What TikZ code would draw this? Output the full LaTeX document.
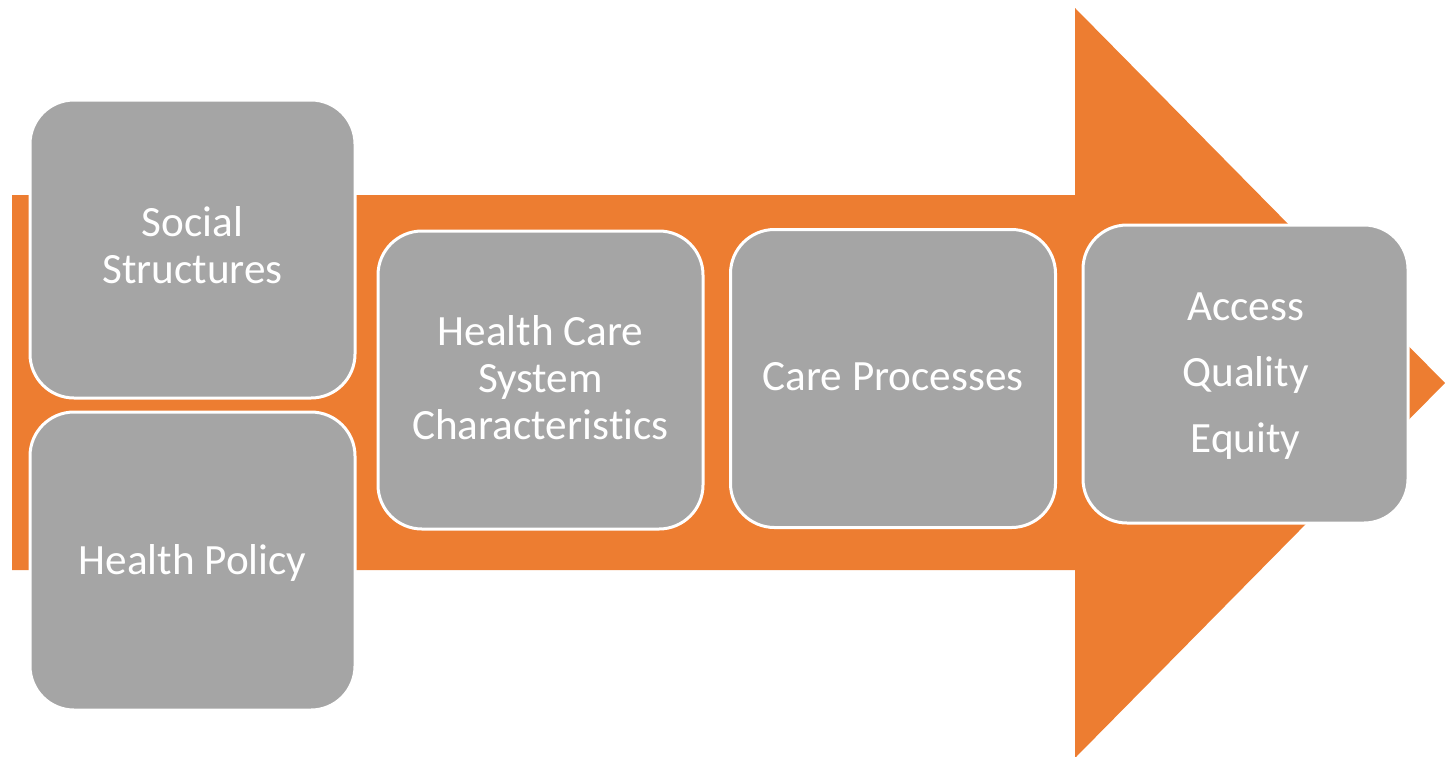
\documentclass[tikz,border=0pt]{standalone}
\usepackage{fontspec}
\setmainfont[Ligatures={NoCommon,NoContextual}]{Carlito}
\definecolor{arroworange}{HTML}{ED7D31}
\definecolor{boxgray}{HTML}{A5A5A5}
\begin{document}
\begin{tikzpicture}[x=0.5pt,y=-0.5pt,
  box/.style={draw=white, line width=1.5pt, fill=boxgray, rounded corners=22pt,
    minimum width=162.5pt, minimum height=149pt, inner sep=0pt},
  lbl/.style={text=white, align=center, font=\fontsize{21.6}{23.5}\selectfont},
  widelbl/.style={lbl, font=\fontsize{21.6}{33}\selectfont}]
\useasboundingbox (0,0) rectangle (1445,756);
\fill[arroworange] (12,195) -- (1075,195) -- (1075,8) -- (1445,383) -- (1075,758) -- (1075,570) -- (12,570) -- cycle;
\node[box] (soc) at (192.5,249) {};
\node[lbl] (soct) at (192.5,245.5) {Social\\Structures};
\node[box] (pol) at (192.5,561) {};
\node[lbl] (polt) at (192.5,562.5) {Health Policy};
\node[box] (hcs) at (540.5,380) {};
\node[lbl] (hcst) at (540.5,377.5) {Health Care\\System\\Characteris\kern0pt tics};
\node[box] (cp) at (893,378.5) {};
\node[lbl] (cpt) at (893,376.5) {Care Processes};
\node[box] (aqe) at (1245.5,374) {};
\node[widelbl] (aqet) at (1245.5,376.5) {Access\\Quality\\Equity};
\end{tikzpicture}
\end{document}
